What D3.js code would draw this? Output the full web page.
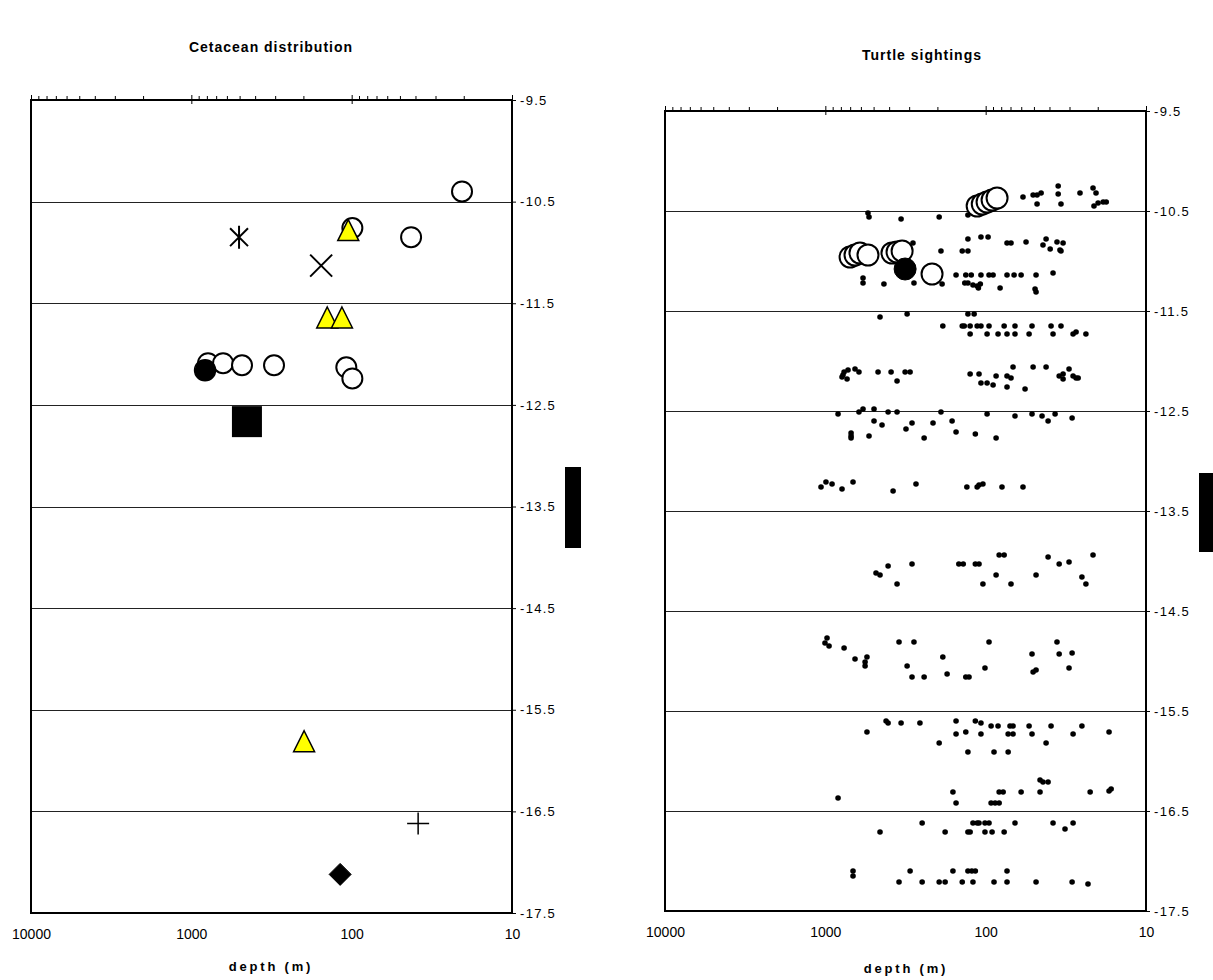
<!DOCTYPE html>
<html>
<head>
<meta charset="utf-8">
<script src="https://cdn.jsdelivr.net/npm/d3@7"></script>
<style>
  body { margin: 0; background: #fff; }
  svg { display: block; font-family: "Liberation Sans", Arial, sans-serif; }
</style>
</head>
<body>
<svg id="chart" width="1213" height="980"></svg>
<script>
// ---------- axes ----------
const depthLabels = [10000, 1000, 100, 10];
const latitudeTicks = [-9.5, -10.5, -11.5, -12.5, -13.5, -14.5, -15.5, -16.5, -17.5];
const gridLatitudes = [-10.5, -11.5, -12.5, -13.5, -14.5, -15.5, -16.5];

// ---------- cetacean sightings: [depth (m), latitude] ----------
const cetaceanOpenCircles = [
  [20.5, -10.40], [99, -10.76], [42.6, -10.85],
  [787, -12.09], [634, -12.09], [483, -12.11], [305, -12.11], [108, -12.13], [99, -12.24]
];
const cetaceanFilledCircles = [[821, -12.16]];
const cetaceanSquares = [[450, -12.66]];
const cetaceanTriangles = [[105, -10.78], [142, -11.64], [115, -11.64], [198, -15.81]];
const cetaceanAsterisks = [[504, -10.85]];
const cetaceanCrosses = [[155, -11.13]];
const cetaceanPluses = [[38.5, -16.62]];
const cetaceanDiamonds = [[118, -17.12]];

// ---------- turtle sightings: [depth (m), latitude] ----------
const turtleDots = [
  // around -10.4
  [58.5, -10.36], [50.6, -10.34], [47.8, -10.34], [45.1, -10.32], [47.8, -10.43], [35.3, -10.25],
  [35.3, -10.33], [33.9, -10.43], [25.8, -10.32], [21.4, -10.27], [20.5, -10.32], [21.1, -10.45],
  [19.9, -10.42], [18.5, -10.41], [17.7, -10.41],
  // around -10.55
  [542, -10.52], [534, -10.56], [337, -10.58], [195, -10.56], [129, -10.54],
  // around -10.8
  [129, -10.78], [107, -10.76], [96.6, -10.76], [73.6, -10.82], [69.5, -10.82], [56.0, -10.81],
  [42.0, -10.78], [35.9, -10.81], [32.9, -10.82], [43.9, -10.84], [39.6, -10.88], [34.4, -10.89],
  [33.9, -10.90], [284, -10.82], [190, -10.90], [140, -10.90], [129, -10.90],
  // around -11.15
  [153, -11.14], [133, -11.14], [123, -11.14], [107, -11.14], [95.3, -11.14], [89.9, -11.14],
  [73.6, -11.14], [66.5, -11.14], [60.1, -11.14], [48.5, -11.14], [38.0, -11.12],
  // around -11.25
  [582, -11.17], [582, -11.22], [431, -11.23], [280, -11.22], [187, -11.23], [135, -11.22],
  [129, -11.22], [120, -11.24], [113, -11.25], [108, -11.23], [111, -11.27], [81.3, -11.27],
  [49.2, -11.28], [48.5, -11.31],
  // around -11.6
  [456, -11.56], [309, -11.53], [129, -11.53], [118, -11.53],
  [185, -11.65], [140, -11.65], [136, -11.65], [125, -11.65], [113, -11.65], [107, -11.65],
  [95.3, -11.65], [76.7, -11.65], [65.6, -11.65], [51.4, -11.65], [39.1, -11.65], [33.9, -11.65],
  [125, -11.73], [98, -11.73], [83.7, -11.73], [73.6, -11.73], [65.6, -11.73], [53.6, -11.73],
  [38.0, -11.73], [28.5, -11.73], [27.3, -11.71], [23.7, -11.73],
  // around -12.15
  [722, -12.09], [764, -12.11], [776, -12.14], [787, -12.16], [732, -12.18], [653, -12.08],
  [617, -12.11], [469, -12.11], [389, -12.11], [318, -12.11], [296, -12.11], [357, -12.20],
  [125, -12.13], [110, -12.13], [107, -12.22], [98, -12.22], [89.9, -12.24], [86.1, -12.15],
  [73.6, -12.15], [69.5, -12.17], [73.6, -12.26], [67.5, -12.06], [56.8, -12.28], [50.6, -12.06],
  [42.0, -12.06], [34.8, -12.15], [32.9, -12.13], [32.9, -12.18], [30.2, -12.08], [28.5, -12.15],
  [27.3, -12.17], [26.5, -12.17],
  // around -12.6
  [833, -12.53], [617, -12.51], [582, -12.48], [497, -12.48], [406, -12.51], [357, -12.51],
  [190, -12.51], [98, -12.53], [65.6, -12.55], [51.4, -12.53], [44.5, -12.55], [40.8, -12.60],
  [36.9, -12.53], [28.9, -12.57], [497, -12.60], [443, -12.64], [288, -12.62], [314, -12.68],
  [213, -12.62], [162, -12.60], [153, -12.71], [116, -12.73], [86.1, -12.77], [242, -12.77],
  [534, -12.75], [691, -12.72], [691, -12.75], [691, -12.77],
  // around -13.25
  [1064, -13.26], [991, -13.21], [908, -13.23], [787, -13.28], [672, -13.21], [378, -13.30],
  [272, -13.23], [131, -13.26], [113, -13.26], [110, -13.24], [104, -13.23], [79.1, -13.26],
  [58.5, -13.26],
  // around -14.1
  [483, -14.12], [456, -14.14], [406, -14.05], [357, -14.23], [288, -14.03], [147, -14.03],
  [138, -14.03], [116, -14.03], [110, -14.03], [82.4, -13.94], [76.7, -13.94], [86.1, -14.14],
  [104, -14.23], [69.5, -14.23], [48.5, -14.14], [40.8, -13.96], [34.8, -14.03], [30.2, -14.01],
  [21.4, -13.94], [25.1, -14.16], [23.7, -14.23],
  // around -14.95
  [976, -14.77], [1005, -14.82], [948, -14.85], [764, -14.87], [653, -14.98], [550, -14.96],
  [565, -15.01], [565, -15.05], [347, -14.81], [280, -14.81], [309, -15.05], [288, -15.16],
  [242, -15.16], [185, -14.96], [174, -15.13], [133, -15.16], [127, -15.16], [101, -15.07],
  [95.3, -14.81], [51.4, -14.93], [50.6, -15.11], [48.5, -15.09], [35.9, -14.81], [34.8, -14.93],
  [28.9, -14.92], [30.2, -15.07],
  // around -15.7
  [418, -15.60], [406, -15.62], [337, -15.62], [257, -15.62], [153, -15.60], [116, -15.60],
  [107, -15.62], [92.5, -15.65], [83.7, -15.65], [70.5, -15.65], [67.5, -15.65], [53.6, -15.65],
  [39.1, -15.65], [25.1, -15.65], [550, -15.71], [153, -15.73], [133, -15.71], [107, -15.73],
  [72.4, -15.73], [67.5, -15.73], [51.4, -15.73], [28.5, -15.73], [17.0, -15.71], [195, -15.82],
  [42.0, -15.82], [129, -15.91], [88.7, -15.91], [72.4, -15.91],
  // around -16.3
  [45.8, -16.19], [43.9, -16.21], [40.8, -16.21], [160, -16.31], [82.4, -16.31], [77.8, -16.31],
  [60.1, -16.31], [45.8, -16.31], [22.3, -16.31], [17.0, -16.30], [16.5, -16.28], [833, -16.37],
  [153, -16.42], [92.5, -16.42], [87.3, -16.42], [82.4, -16.42],
  // around -16.65
  [249, -16.62], [120, -16.62], [113, -16.62], [110, -16.62], [101, -16.62], [95.3, -16.62],
  [65.6, -16.62], [38.0, -16.62], [28.5, -16.62], [456, -16.71], [179, -16.71], [129, -16.71],
  [125, -16.71], [101, -16.71], [91.2, -16.71], [76.7, -16.71], [32.0, -16.68],
  // around -17.15
  [672, -17.10], [672, -17.15], [296, -17.10], [160, -17.10], [129, -17.10], [122, -17.10],
  [116, -17.10], [73.6, -17.10], [347, -17.21], [249, -17.21], [195, -17.21], [179, -17.21],
  [140, -17.21], [120, -17.21], [88.7, -17.21], [73.6, -17.21], [48.5, -17.21], [28.9, -17.21],
  [23.0, -17.23]
];
const turtleOpenCircles = [
  [113, -10.45], [105, -10.43], [98, -10.41], [91.2, -10.39], [84.9, -10.37],
  [701, -10.96], [653, -10.94], [608, -10.92], [542, -10.94],
  [384, -10.92], [357, -10.91], [332, -10.90], [216, -11.13]
];
const turtleFilledCircles = [[318, -11.08]];

// ---------- drawing ----------
const svg = d3.select("#chart");
const FONT = '"Liberation Sans", Arial, sans-serif';

function drawPanel(box) {
  const x = d3.scaleLog().domain([10000, 10]).range([box.left, box.right]);
  const y = d3.scaleLinear().domain([-9.5, -17.5]).range([box.top, box.bottom]);
  const g = svg.append("g");

  // title
  g.append("text")
    .attr("x", box.titleX).attr("y", box.titleY)
    .attr("text-anchor", "middle")
    .attr("font-family", FONT).attr("font-size", 14).attr("font-weight", "bold")
    .attr("letter-spacing", 1)
    .text(box.title);

  // horizontal gridlines
  g.append("g").selectAll("line").data(gridLatitudes).join("line")
    .attr("x1", box.left).attr("x2", box.right)
    .attr("y1", d => Math.round(y(d)) + 0.5).attr("y2", d => Math.round(y(d)) + 0.5)
    .attr("stroke", "#222").attr("stroke-width", 1);

  // minor depth ticks on the top edge
  const minorTicks = [];
  for (let e = 1; e < 4; e++) for (let m = 2; m <= 9; m++) minorTicks.push(m * Math.pow(10, e));
  g.append("g").attr("transform", `translate(0,${box.top})`)
    .call(d3.axisTop(x).tickValues(minorTicks).tickSize(4).tickFormat(""))
    .call(a => a.select(".domain").remove())
    .selectAll("line").attr("stroke", "#000");

  // major depth ticks crossing the top edge
  g.append("g").attr("transform", `translate(0,${box.top + 4})`)
    .call(d3.axisTop(x).tickValues(depthLabels).tickSize(9).tickFormat(""))
    .call(a => a.select(".domain").remove())
    .selectAll("line").attr("stroke", "#000");

  // depth labels under the bottom edge
  const bottomAxis = g.append("g").attr("transform", `translate(0,${box.bottom})`)
    .call(d3.axisBottom(x).tickValues(depthLabels).tickSize(0).tickPadding(16).tickFormat(d3.format("d")));
  bottomAxis.select(".domain").remove();
  bottomAxis.selectAll("text").attr("font-family", FONT).attr("font-size", 14).attr("fill", "#000");

  // latitude axis on the right
  const rightAxis = g.append("g").attr("transform", `translate(${box.right},0)`)
    .call(d3.axisRight(y).tickValues(latitudeTicks).tickSize(4).tickPadding(4).tickFormat(d => d.toFixed(1)));
  rightAxis.select(".domain").remove();
  rightAxis.selectAll("line").attr("stroke", "#000");
  rightAxis.selectAll("text").attr("font-family", FONT).attr("font-size", 13)
    .attr("letter-spacing", 1.3).attr("fill", "#000");

  // plot frame
  g.append("rect")
    .attr("x", box.left).attr("y", box.top)
    .attr("width", box.right - box.left).attr("height", box.bottom - box.top)
    .attr("fill", "none").attr("stroke", "#000").attr("stroke-width", 2);

  // axis title
  g.append("text")
    .attr("x", box.xLabelX).attr("y", box.xLabelY)
    .attr("text-anchor", "middle")
    .attr("font-family", FONT).attr("font-size", 13).attr("font-weight", "bold")
    .attr("letter-spacing", 2.8)
    .text("depth (m)");

  // black bar beside the latitude axis
  g.append("rect")
    .attr("x", box.bar[0]).attr("y", box.bar[1])
    .attr("width", box.bar[2]).attr("height", box.bar[3])
    .attr("fill", "#000");

  return { g: g.append("g"), x, y };
}

// marker shapes
function trianglePath(w, h) {
  return `M0,${-h / 2}L${w / 2},${h / 2}L${-w / 2},${h / 2}Z`;
}
function diamondPath(r) {
  return `M0,${-r}L${r},0L0,${r}L${-r},0Z`;
}
function asteriskPath(r) {
  const d = r * 0.78;
  return `M0,${-r}L0,${r}M${-d},${-d}L${d},${d}M${-d},${d}L${d},${-d}`;
}
function crossPath(r) {
  return `M${-r},${-r}L${r},${r}M${-r},${r}L${r},${-r}`;
}
function plusPath(r) {
  return `M${-r},0L${r},0M0,${-r}L0,${r}`;
}

function placeCircles(p, data, r, fill, strokeW) {
  p.g.append("g").selectAll("circle").data(data).join("circle")
    .attr("cx", d => p.x(d[0])).attr("cy", d => p.y(d[1])).attr("r", r)
    .attr("fill", fill).attr("stroke", "#000").attr("stroke-width", strokeW);
}
function placePaths(p, data, path, fill, strokeW) {
  p.g.append("g").selectAll("path").data(data).join("path")
    .attr("transform", d => `translate(${p.x(d[0])},${p.y(d[1])})`)
    .attr("d", path)
    .attr("fill", fill).attr("stroke", "#000").attr("stroke-width", strokeW);
}

// ---- left panel ----
const cet = drawPanel({
  left: 31, right: 512, top: 100, bottom: 913,
  title: "Cetacean distribution", titleX: 271, titleY: 52,
  xLabelX: 271, xLabelY: 971,
  bar: [565, 467, 16, 81]
});
placeCircles(cet, cetaceanOpenCircles, 10, "#fff", 2);
placeCircles(cet, cetaceanFilledCircles, 10.5, "#000", 1.5);
cet.g.append("g").selectAll("rect").data(cetaceanSquares).join("rect")
  .attr("x", d => cet.x(d[0]) - 15).attr("y", d => cet.y(d[1]) - 15)
  .attr("width", 30).attr("height", 31).attr("fill", "#000");
placePaths(cet, cetaceanTriangles, trianglePath(21, 21), "#ffff00", 1.5);
placePaths(cet, cetaceanAsterisks, asteriskPath(11.5), "none", 2);
placePaths(cet, cetaceanCrosses, crossPath(11), "none", 2);
placePaths(cet, cetaceanPluses, plusPath(11), "none", 1.5);
placePaths(cet, cetaceanDiamonds, diamondPath(11), "#000", 1);

// ---- right panel ----
const tur = drawPanel({
  left: 665, right: 1146, top: 111, bottom: 911,
  title: "Turtle sightings", titleX: 922, titleY: 60,
  xLabelX: 906, xLabelY: 973,
  bar: [1199, 473, 14, 79]
});
placeCircles(tur, turtleDots, 2.8, "#000", 0);
placeCircles(tur, turtleOpenCircles, 10.5, "#fff", 2);
placeCircles(tur, turtleFilledCircles, 11, "#000", 1);
</script>
</body>
</html>
